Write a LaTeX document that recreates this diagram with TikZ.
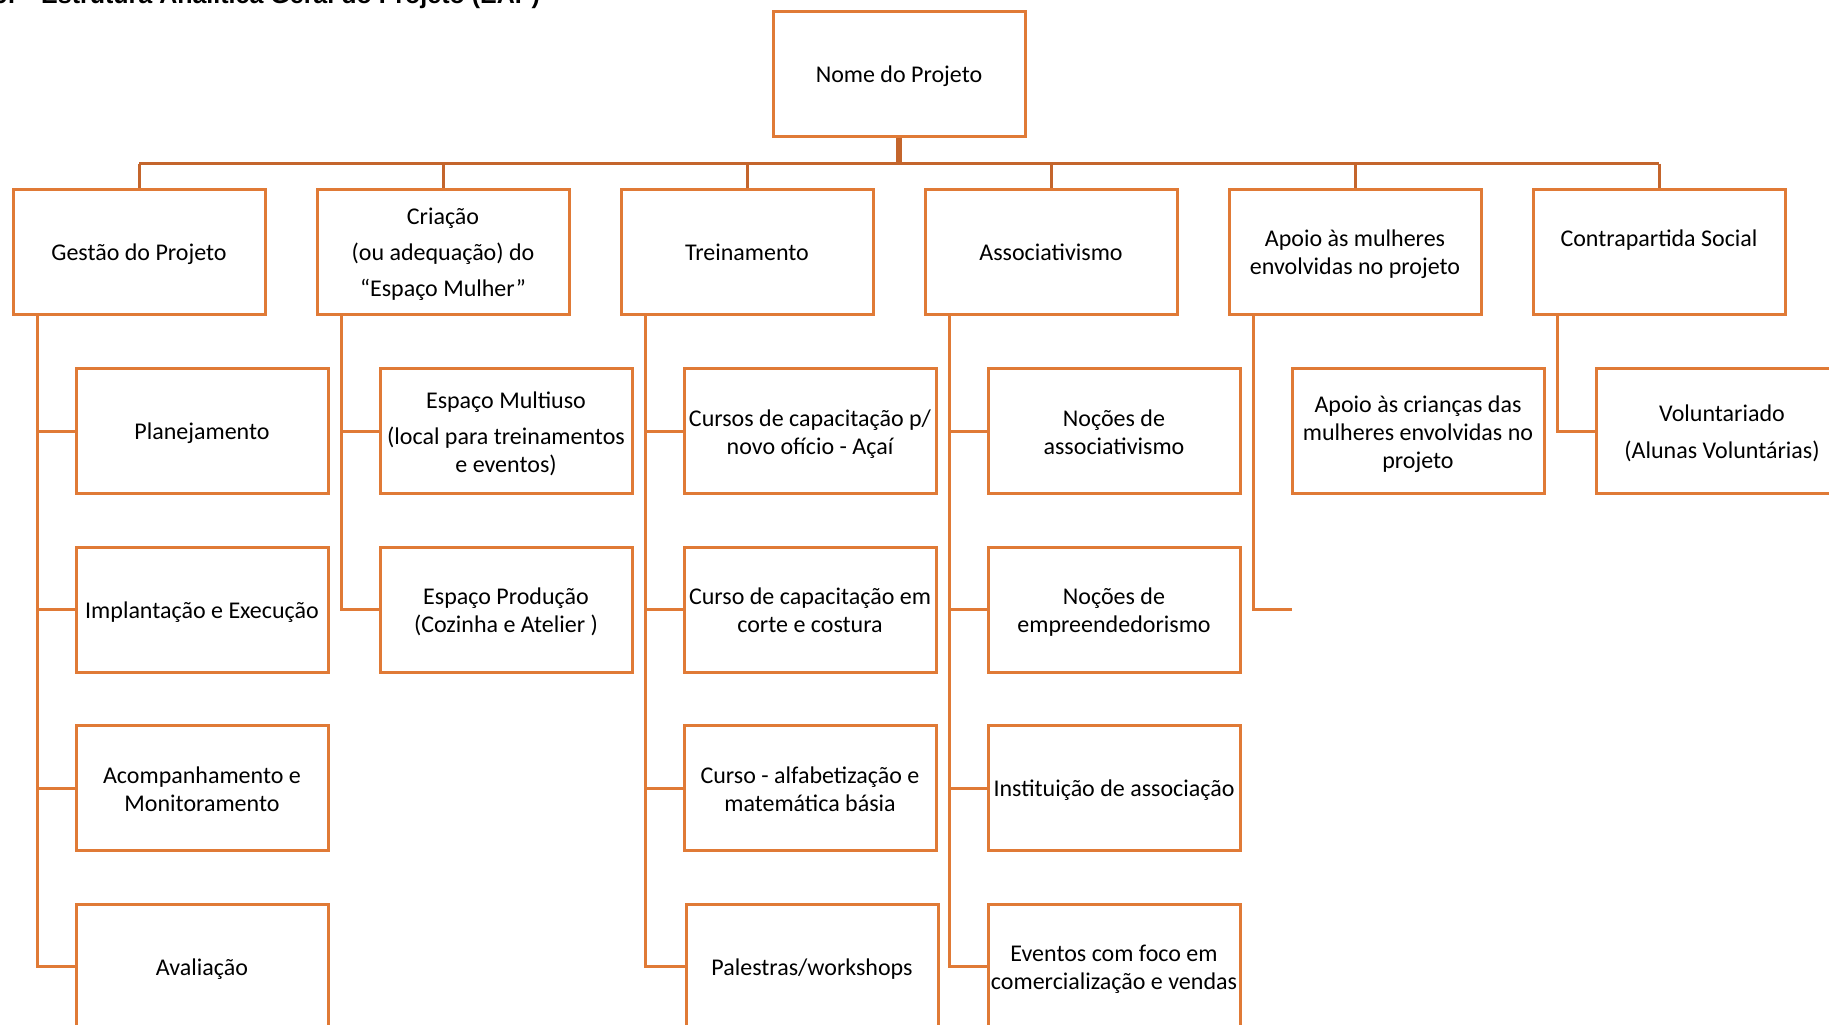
\documentclass[tikz,border=0pt]{standalone}
\usepackage{fontspec}
\setmainfont{Carlito}
\newfontfamily\titlefont{Liberation Sans}
\definecolor{boxc}{HTML}{E07A36}
\definecolor{busc}{HTML}{C4652C}
\newcommand\fl{\rule{0pt}{27pt}}
\begin{document}
\begin{tikzpicture}[x=1pt,y=-1pt,
  box/.style={draw=boxc,line width=3pt,minimum width=252pt,minimum height=125pt,inner sep=0pt,align=center,font=\fontsize{24}{28}\selectfont,
    execute at begin node={\rule{0pt}{25.5pt}}, execute at end node={\strut}},
  link/.style={draw=boxc,line width=3pt},
  buslink/.style={draw=busc,line width=3pt},
  stem/.style={draw=busc,line width=6pt},
  ttl/.style={anchor=base west,inner sep=0pt,font=\titlefont\bfseries\fontsize{25}{30}\selectfont}]
\useasboundingbox (0,0) rectangle (1829,1025);
\clip (0,0) rectangle (1829,1025);
\fill[white] (0,0) rectangle (1829,1025);

% title (cut off at the top)
\node[ttl] (num) at (-6,4) {9.};
\node[ttl] (title) at (41,4) {Estrutura Analítica Geral do Projeto (EAP)};

% root
\node[box,minimum height=124pt] (root) at (899,74) {Nome do Projeto};

% level 1
\node[box] (g) at (139,251.5) {Gestão do Projeto};
\node[box] (c) at (443,251.5) {\fl Criação\\[8pt](ou adequação) do\\[8pt]“Espaço Mulher”\strut};
\node[box] (t) at (747,251.5) {Treinamento};
\node[box] (a) at (1051,251.5) {Associativismo};
\node[box] (m) at (1355,251.5) {\fl Apoio às mulheres\\envolvidas no projeto\strut};
\node[box] (s) at (1659,251.5) {\fl Contrapartida Social\\\strut};

% Gestão children
\node[box] (g1) at (202,431) {Planejamento};
\node[box] (g2) at (202,609.5) {Implantação e Execução};
\node[box] (g3) at (202,788) {\fl Acompanhamento e\\Monitoramento\strut};
\node[box] (g4) at (202,966.5) {Avaliação};

% Criação children
\node[box] (c1) at (506,431) {\fl Espaço Multiuso\\[8pt](local para treinamentos\\e eventos)\strut};
\node[box] (c2) at (506,609.5) {\fl Espaço Produção\\(Cozinha e Atelier )\strut};

% Treinamento children
\node[box] (t1) at (810,431) {\fl Cursos de capacitação p/\\novo ofício - Açaí\strut};
\node[box] (t2) at (810,609.5) {\fl Curso de capacitação em\\corte e costura\strut};
\node[box] (t3) at (810,788) {\fl Curso - alfabetização e\\matemática básia\strut};
\node[box] (t4) at (812,966.5) {Palestras/workshops};

% Associativismo children
\node[box] (a1) at (1114,431) {\fl Noções de\\associativismo\strut};
\node[box] (a2) at (1114,609.5) {\fl Noções de\\empreendedorismo\strut};
\node[box] (a3) at (1114,788) {Instituição de associação};
\node[box] (a4) at (1114,966.5) {\fl Eventos com foco em\\comercialização e vendas\strut};

% Apoio child
\node[box] (m1) at (1418,431) {\fl Apoio às crianças das\\mulheres envolvidas no\\projeto\strut};
\coordinate (m2) at (1292,609.5);

% Contrapartida child
\node[box] (s1) at (1722,431) {\fl Voluntariado\\[9pt](Alunas Voluntárias)\strut};

% bus
\coordinate (bus) at (899,163.5);
\draw[stem] (root.south) -- (bus);
\draw[buslink] (g.north |- bus) -- (s.north |- bus);
\foreach \n in {g,c,t,a,m,s} \draw[buslink] (\n.north |- bus) -- (\n.north);

% child connectors
\foreach \k in {1,2,3,4} \draw[link] ([xshift=25.5pt]g.south west) |- (g\k.west);
\foreach \k in {1,2} \draw[link] ([xshift=25.5pt]c.south west) |- (c\k.west);
\foreach \k in {1,2,3,4} \draw[link] ([xshift=25.5pt]t.south west) |- (t\k.west);
\foreach \k in {1,2,3,4} \draw[link] ([xshift=25.5pt]a.south west) |- (a\k.west);
\draw[link] ([xshift=25.5pt]m.south west) |- (m2);
\draw[link] ([xshift=25.5pt]s.south west) |- (s1.west);
\end{tikzpicture}
\end{document}
